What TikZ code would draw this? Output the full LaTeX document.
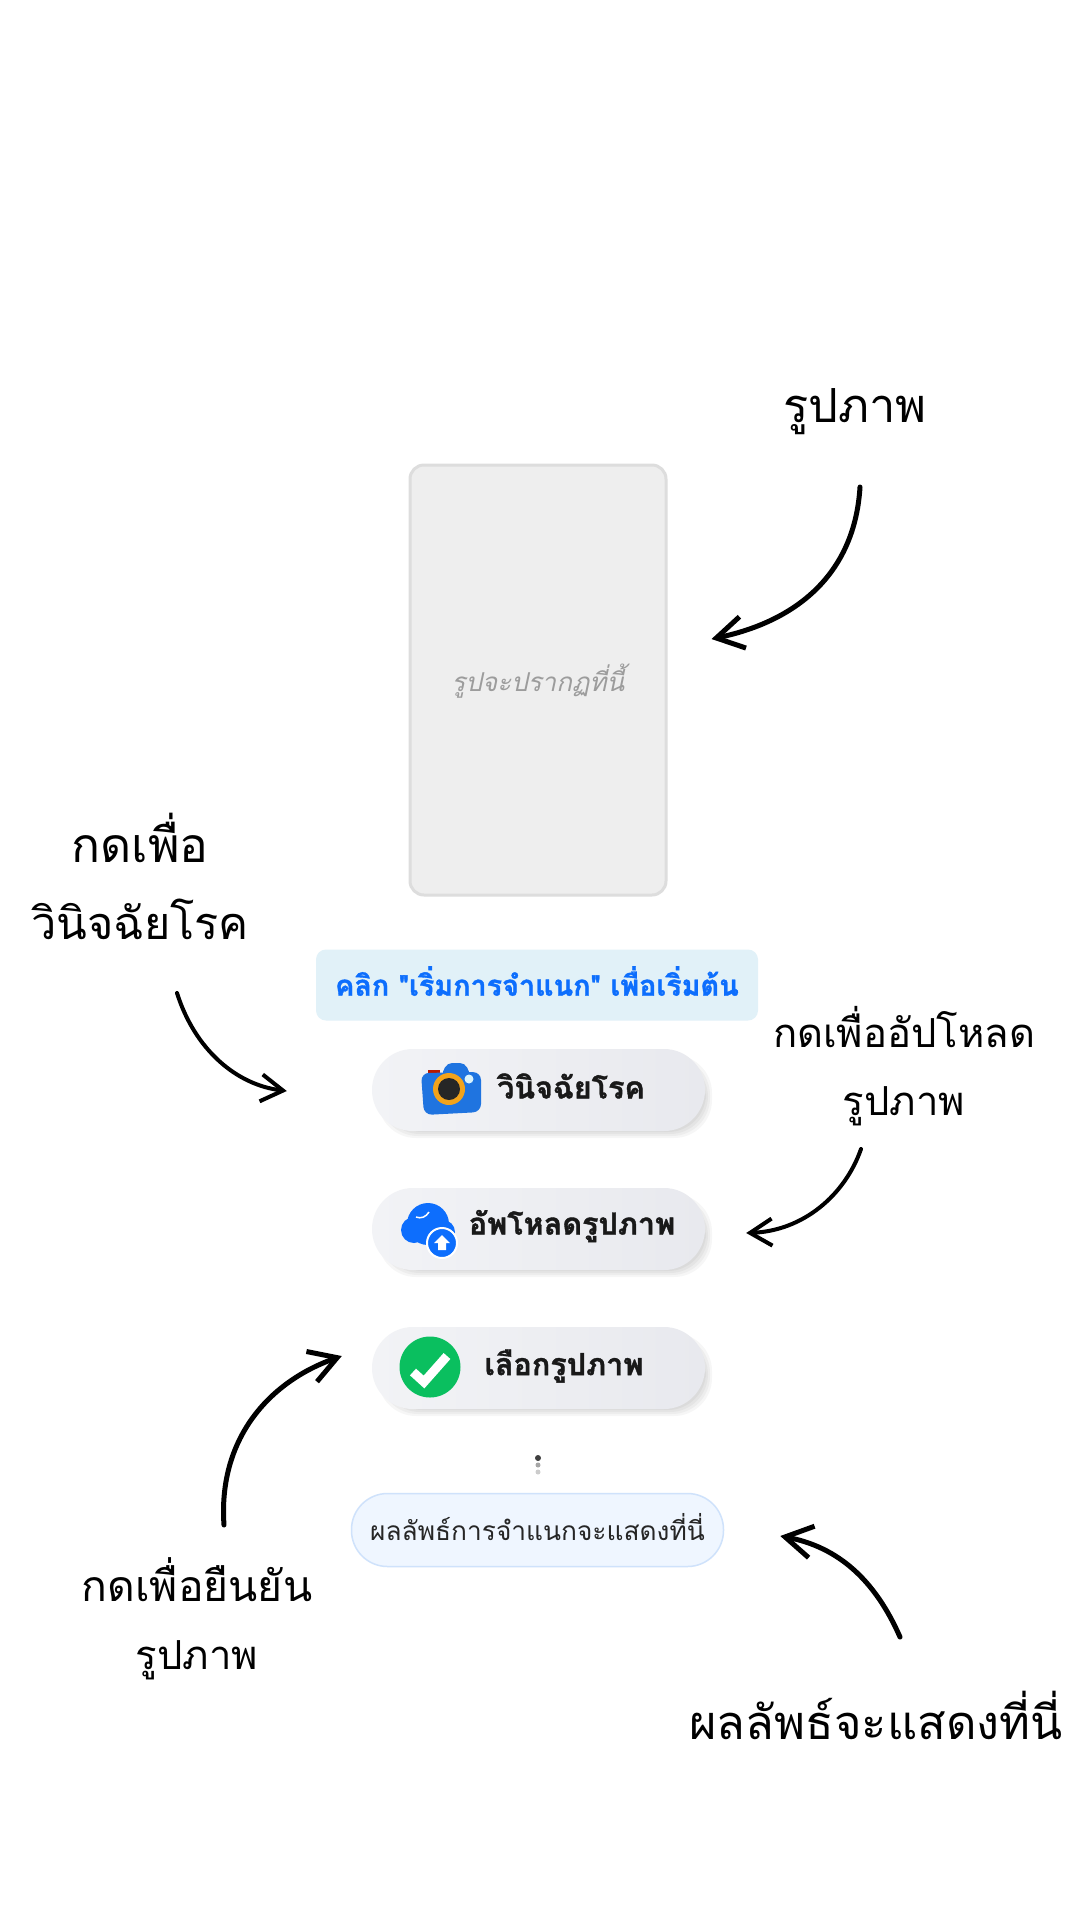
\documentclass[tikz,border=0pt]{standalone}
\usepackage{fontspec}
\setmainfont[Script=Thai]{Loma}
\newfontfamily\btnfont[Script=Thai,FakeBold=1.2]{Loma Bold}
\usetikzlibrary{arrows.meta,calc,positioning}
\definecolor{boxgrey}{HTML}{EEEEEE}
\definecolor{boxline}{HTML}{DDDDDD}
\definecolor{hintgrey}{HTML}{9C9C9C}
\definecolor{infofill}{HTML}{E1F1F8}
\definecolor{infoblue}{HTML}{0D6EFD}
\definecolor{resfill}{HTML}{EFF6FF}
\definecolor{resline}{HTML}{CFE2FB}
\definecolor{okgreen}{HTML}{0ABF5F}
\definecolor{cambody}{HTML}{1F74E0}
\definecolor{camring}{HTML}{F2A31B}
\definecolor{btnleft}{HTML}{F2F3F6}
\definecolor{btnright}{HTML}{E8E9EE}
\tikzset{note/.style={font=\fontsize{47}{77}\selectfont, align=center, inner sep=0pt},
  smallnote/.style={font=\fontsize{40}{68}\selectfont, align=center, inner sep=0pt},
  btn/.style={rounded corners=41pt, minimum width=333pt, minimum height=82pt, inner sep=0pt,
    left color=btnleft, right color=btnright},
  btntext/.style={font=\fontsize{30.5}{34}\btnfont, text=black!90, inner sep=0pt},
  hand/.style={-{Straight Barb[length=27pt,width=32pt]}, line width=5pt, line cap=round, line join=round},
  thinhand/.style={-{Straight Barb[length=22pt,width=27pt]}, line width=4pt, line cap=round, line join=round}}

\begin{document}
\begin{tikzpicture}[x=1pt,y=-1pt]
  \useasboundingbox[fill=white] (0,0) rectangle (1080,1920);
  \node[draw=boxline, fill=boxgrey, line width=3pt, rounded corners=14pt, minimum width=256pt, minimum height=430pt] (imgbox) at (538,680) {};
  \node[font=\fontsize{26}{32}\selectfont\itshape, text=hintgrey, inner sep=0pt] (imghint) at (538,681) {รูปจะปรากฏที่นี้};
  \node[fill=infofill, rounded corners=10pt, minimum width=442pt, minimum height=71pt, inner sep=0pt] (infobox) at (537,985) {};
  \node[font=\fontsize{28.7}{32}\btnfont, text=infoblue, inner sep=0pt] (infotext) at (537,981) {คลิก "เริ่มการจำแนก" เพื่อเริ่มต้น};
  \foreach \ypos in {1090,1229,1368}
    \foreach \s in {0,2,...,10}
      \fill[black, opacity=.035, rounded corners=38pt] (378+\s,\ypos-35+\s) rectangle (712-\s,\ypos+48-\s);
  \node[btn] (btndiag) at (538.5,1090) {};
  \node[btn] (btnup) at (538.5,1229) {};
  \node[btn] (btnpick) at (538.5,1368) {};
  \node[btntext] (txtdiag) at (571,1086) {วินิจฉัยโรค};
  \node[btntext] (txtup) at (572,1226) {อัพโหลดรูปภาพ};
  \node[btntext] (txtpick) at (564,1366) {เลือกรูปภาพ};
  \fill[red!65!black!80!orange] (428,1070) rectangle (440,1078);
  \fill[cambody, rounded corners=5pt] (441,1076) -- (447,1063) -- (465,1063) -- (471,1076) -- cycle;
  \fill[cambody, rounded corners=8pt] (421,1073) -- (481,1072) -- (481,1112) -- (424,1115) -- cycle;
  \fill[camring] (449,1089) circle (16pt);
  \fill[black!85] (449,1089) circle (11pt);
  \fill[white!85!cyan] (469,1079) circle (4.5pt);
  \fill[infoblue] (428,1224) circle (21pt) (414,1230) circle (13pt) (443,1232) circle (12pt) (420,1236) rectangle (450,1243);
  \draw[white, line width=1.5pt] (416,1217) .. controls (421,1219) and (426,1217) .. (429,1212);
  \draw[white, line width=2pt, fill=infoblue] (442,1243) circle (15pt);
  \fill[white] (442,1235) -- (450,1243) -- (446,1243) -- (446,1250) -- (438,1250) -- (438,1243) -- (434,1243) -- cycle;
  \fill[okgreen] (430,1367) circle (30.5pt);
  \draw[white, line width=9pt] (413,1372) -- (424,1382) -- (447,1356);
  \foreach \yy/\rr/\gg in {1458/3/75,1465/2.5/35,1472/2.5/20}
    \fill[black!\gg] (538,\yy) circle (\rr pt);
  \node[draw=resline, fill=resfill, line width=1.5pt, rounded corners=36pt, minimum width=372pt, minimum height=73pt, inner sep=0pt] (resbox) at (537.5,1530) {};
  \node[font=\fontsize{26.3}{30}\selectfont, text=black!85, inner sep=0pt] (restext) at (537.5,1527) {ผลลัพธ์การจำแนกจะแสดงที่นี่};
  \node[note] (lblphoto) at (855,412) {รูปภาพ};
  \node[note] (lbldiag) at (140,876) {\fontsize{48}{77}\selectfont กดเพื่อ\\\fontsize{45}{77}\selectfont วินิจฉัยโรค};
  \node[smallnote] (lblup) at (904,1066) {กดเพื่ออัปโหลด\\รูปภาพ};
  \node[smallnote] (lblpick) at (197,1619) {\fontsize{42.7}{68}\selectfont กดเพื่อยืนยัน\\\fontsize{40}{68}\selectfont รูปภาพ};
  \node[note] (lblres) at (876,1715) {ผลลัพธ์จะแสดงที่นี่};
  \draw[hand] ([shift={(5,75)}]lblphoto.center) .. controls +(-5,83) and +(90,-19) .. ([shift={(44,-41)}]imgbox.east);
  \draw[thinhand] ([shift={(37,117)}]lbldiag.center) .. controls +(18,57) and +(-50,-6) .. ([shift={(-85,1)}]btndiag.west);
  \draw[thinhand] ([shift={(-43,83)}]lblup.center) .. controls +(-16,46) and +(57,-2) .. ([shift={(41,4)}]btnup.east);
  \draw[hand] ([shift={(27,-94)}]lblpick.center) .. controls +(-6,-85) and +(-74,26) .. ([shift={(-30,-12)}]btnpick.west);
  \draw[hand] ([shift={(24,-78)}]lblres.center) .. controls +(-25,-57) and +(58,11) .. ([shift={(56,6)}]resbox.east);
\end{tikzpicture}
\end{document}
